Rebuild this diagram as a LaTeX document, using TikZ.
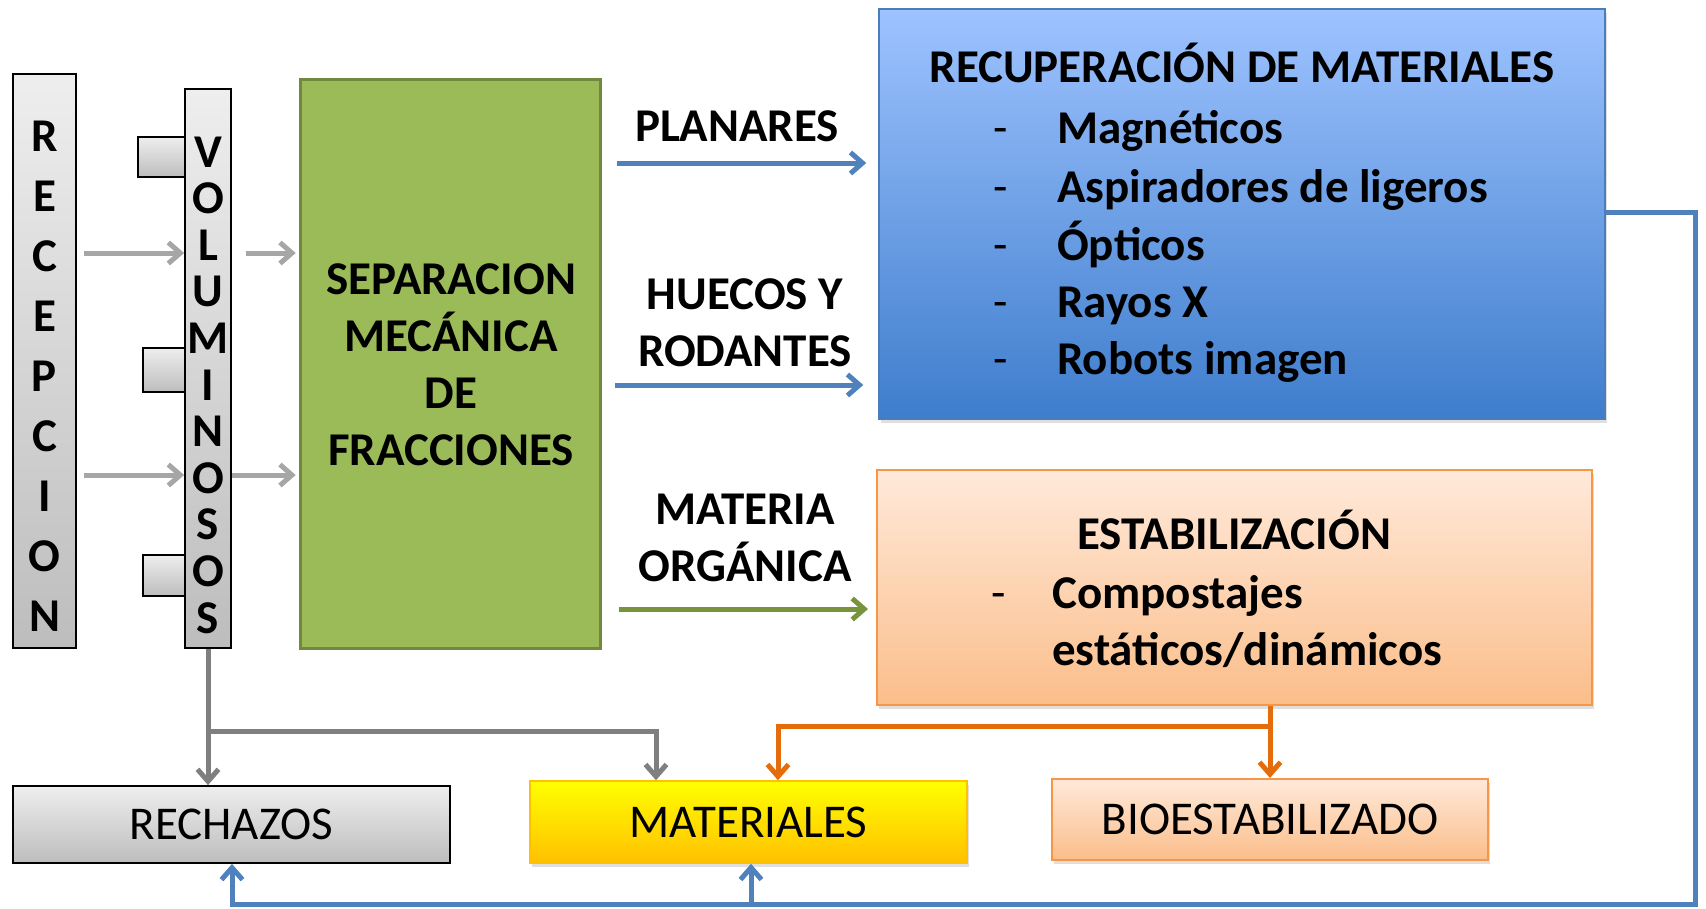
\documentclass[tikz,border=0pt]{standalone}
\usepackage{fontspec}
\setmainfont{Carlito}
\usetikzlibrary{arrows.meta,shadows}
\definecolor{arrgray}{HTML}{A6A6A6}
\definecolor{dgrayline}{HTML}{7F7F7F}
\definecolor{blueline}{HTML}{4F81BD}
\definecolor{greenline}{HTML}{77933C}
\definecolor{orangeline}{HTML}{E46C0A}
\definecolor{sepfill}{HTML}{9BBB59}
\definecolor{sepborder}{HTML}{71893F}
\definecolor{bluetop}{HTML}{9EC3FF}
\definecolor{bluebot}{HTML}{3E7DCC}
\definecolor{blueborder}{HTML}{4A7EBB}
\definecolor{orgtop}{HTML}{FFE9DA}
\definecolor{orgbot}{HTML}{FBBE8A}
\definecolor{orgborder}{HTML}{F79646}
\definecolor{yeltop}{HTML}{FFFF00}
\definecolor{yelbot}{HTML}{FFC000}
\definecolor{graytop}{HTML}{EEEEEE}
\definecolor{graybot}{HTML}{BDBDBD}
\begin{document}
\begin{tikzpicture}[x=1pt,y=-1pt,
  bbold/.style={font=\fontsize{47}{57}\selectfont\bfseries},
  rfont/.style={font=\fontsize{47}{57}\selectfont},
  graybox/.style={draw=black,line width=1.8pt,top color=graytop,bottom color=graybot,inner sep=0pt},
  softshadow/.style={drop shadow={shadow xshift=2pt,shadow yshift=-4pt,opacity=0.25}},
  conn/.style={line width=5pt,-{Straight Barb[length=12pt,width=21pt]}},
]
\useasboundingbox (0,0) rectangle (1706,908);

% left column
\node[graybox,minimum width=63pt,minimum height=574pt] (recep) at (44.5,361) {};
\node[align=center,font=\fontsize{47}{60}\selectfont\bfseries] (recepT) at (44.5,376) {R\\E\\C\\E\\P\\C\\I\\O\\N};

\node[graybox,minimum width=47pt,minimum height=40pt] (tab1) at (161.5,157) {};
\node[graybox,minimum width=42pt,minimum height=44pt] (tab2) at (164,370) {};
\node[graybox,minimum width=42pt,minimum height=41pt] (tab3) at (164,575.5) {};

\node[graybox,minimum width=46pt,minimum height=559pt] (volum) at (208,368.5) {};
\node[align=center,font=\fontsize{47}{46.6}\selectfont\bfseries] (volumT) at (208,385) {V\\O\\L\\U\\M\\I\\N\\O\\S\\O\\S};

% separation
\node[draw=sepborder,line width=3.5pt,fill=sepfill,minimum width=300pt,minimum height=569pt] (sep) at (450.5,364) {};
\node[bbold,align=center] (sepT) at (451,365) {SEPARACION\\MECÁNICA\\DE\\FRACCIONES};

% recovery box
\node[draw=blueborder,line width=1.5pt,top color=bluetop,bottom color=bluebot,softshadow,minimum width=726pt,minimum height=410pt] (recu) at (1242,214) {};
\node[bbold,anchor=base] (recuT) at (1242,82.5) {RECUPERACIÓN DE MATERIALES};
\foreach \n/\yy/\t in {1/143/Magnéticos,2/202/Aspiradores de ligeros,3/260/Ópticos,4/317/Rayos X,5/374/Robots imagen}{
  \node[rfont,anchor=base] (d\n) at (1001,\yy) {-};
  \node[bbold,anchor=base west,inner sep=0pt] (i\n) at (1057,\yy) {\t};
}

% stabilization box
\node[draw=orgborder,line width=2pt,top color=orgtop,bottom color=orgbot,softshadow,minimum width=715pt,minimum height=235pt] (estab) at (1234.5,587.5) {};
\node[bbold,anchor=base] (estabT) at (1234,549) {ESTABILIZACIÓN};
\node[rfont,anchor=base] (ed) at (999,608) {-};
\node[bbold,anchor=base west,inner sep=0pt] (e1) at (1052,608) {Compostajes};
\node[bbold,anchor=base west,inner sep=0pt] (e2) at (1052,665) {estáticos/dinámicos};

% flow labels
\node[bbold] (lplan) at (737,126) {PLANARES};
\node[bbold,align=center] (lhuec) at (745,323) {HUECOS Y\\RODANTES};
\node[bbold,align=center] (lmat) at (745,538) {MATERIA\\ORGÁNICA};

% bottom boxes
\node[graybox,rfont,minimum width=437pt,minimum height=77pt] (rech) at (231.5,824.5) {RECHAZOS};
\node[draw=yelbot,line width=1.5pt,top color=yeltop,bottom color=yelbot,softshadow,rfont,minimum width=437pt,minimum height=82pt] (mat) at (748.5,822) {MATERIALES};
\node[draw=orgborder,line width=2pt,top color=orgtop,bottom color=orgbot,softshadow,rfont,minimum width=436pt,minimum height=81pt] (bio) at (1270,819.5) {BIOESTABILIZADO};

% coordinates for connectors
\coordinate (ya) at (0,253);
\coordinate (yb) at (0,475);
\coordinate (yp) at (0,163);
\coordinate (yh) at (0,385);
\coordinate (ym) at (0,609);
\coordinate (gj) at (656,731);
\coordinate (oj) at (1270,726);
\coordinate (om) at (778,726);
\coordinate (fb1) at (1695,212);
\coordinate (fb2) at (1695,904);
\coordinate (fbl) at (232,904);
\coordinate (fbm) at (751,904);

% gray input arrows
\draw[conn,arrgray,shorten <=7pt] (recep.east |- ya) -- (volum.west |- ya);
\draw[conn,arrgray,shorten <=7pt] (recep.east |- yb) -- (volum.west |- yb);
\draw[conn,arrgray,shorten <=14pt,shorten >=3pt] (volum.east |- ya) -- (sep.west |- ya);
\draw[conn,arrgray,shorten >=3pt] (volum.east |- yb) -- (sep.west |- yb);

% fraction arrows
\draw[conn,blueline,shorten <=15pt,shorten >=12pt] (sep.east |- yp) -- (recu.west |- yp);
\draw[conn,blueline,shorten <=13pt,shorten >=15pt] (sep.east |- yh) -- (recu.west |- yh);
\draw[conn,greenline,shorten <=17pt,shorten >=8pt] (sep.east |- ym) -- (estab.west |- ym);

% rejects / materials from voluminosos
\draw[conn,dgrayline] (volum.south) -- (volum.south |- rech.north);
\draw[conn,dgrayline] (volum.south |- gj) -- (gj) -- (gj |- mat.north);

% stabilization outputs
\draw[conn,orangeline] (bio.north |- estab.south) -- (bio.north);
\draw[conn,orangeline] (oj) -- (om) -- (om |- mat.north);

% feedback line
\draw[conn,blueline] (recu.east |- fb1) -- (fb1) -- (fb2) -- (fbl) -- (fbl |- rech.south);
\draw[conn,blueline] (fbm) -- (fbm |- mat.south);
\end{tikzpicture}
\end{document}
